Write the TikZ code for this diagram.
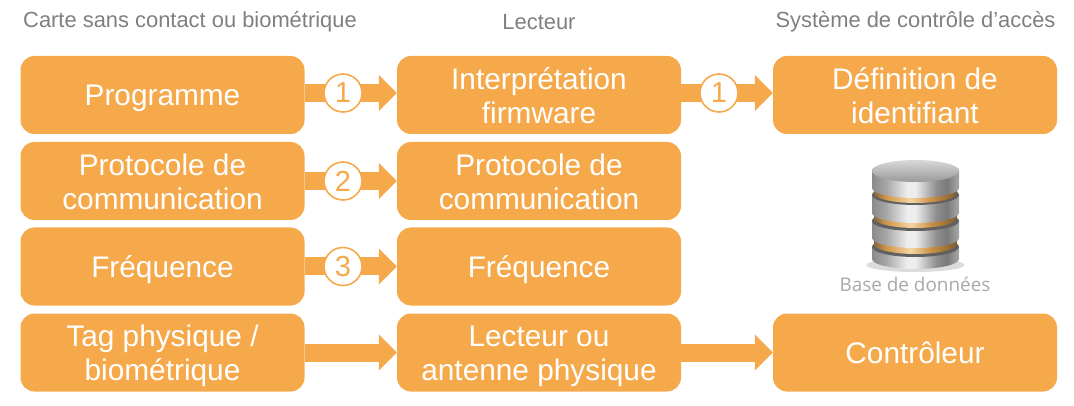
\documentclass[tikz,border=0pt]{standalone}
\usepackage{fontspec}
\setmainfont{Liberation Sans}
\newfontfamily\dbfont{Open Sans}
\usetikzlibrary{arrows.meta,shapes.geometric}
\definecolor{boxorange}{HTML}{F6A94B}
\definecolor{titlegrey}{HTML}{7F7F7F}
\definecolor{dbgrey}{HTML}{A8A8A8}
\definecolor{gA}{HTML}{8C6A3A}
\definecolor{gB}{HTML}{D49A4C}
\definecolor{gC}{HTML}{F3D5A2}
\definecolor{gD}{HTML}{C98E42}
\definecolor{gE}{HTML}{7E5E30}
\definecolor{mA}{HTML}{8A8A8A}
\definecolor{mB}{HTML}{A6A6A6}
\definecolor{mC}{HTML}{EDEDED}
\definecolor{mD}{HTML}{8E8E8E}
\definecolor{mE}{HTML}{7A7A7A}
\definecolor{mF}{HTML}{A8A8A8}
\pgfdeclarehorizontalshading{metal}{100bp}{color(0bp)=(mA);color(25bp)=(mA);color(33bp)=(mB);color(45bp)=(mC);color(50bp)=(mC);color(62bp)=(mD);color(68bp)=(mE);color(75bp)=(mF);color(100bp)=(mF)}
\pgfdeclarehorizontalshading{goldband}{100bp}{color(0bp)=(gA);color(25bp)=(gA);color(33bp)=(gB);color(47bp)=(gC);color(60bp)=(gD);color(75bp)=(gE);color(100bp)=(gE)}
\newcommand{\boxstrut}{\rule[-6.5pt]{0pt}{34pt}}
\newcommand{\twotop}{\rule{0pt}{29pt}}
\tikzset{
  box/.style={fill=boxorange,rounded corners=14pt,minimum width=284pt,minimum height=78pt,
    text=white,align=center,font=\fontsize{29.8}{34}\selectfont,inner sep=0pt,
    execute at begin node=\boxstrut,execute at end node=\boxstrut},
  link/.style={draw=boxorange,line width=18pt,-{Triangle[length=18pt,width=35pt,fill=boxorange]}},
  badge/.style={circle,draw=boxorange,line width=1.6pt,fill=white,text=boxorange,minimum size=38pt,inner sep=0pt,font=\fontsize{29}{30}\selectfont},
  title/.style={text=titlegrey,font=\fontsize{21.9}{26}\selectfont,inner sep=0pt}
}
\newcommand{\metaldisc}[2]{% top y, bottom y
  \path[shading=metal] (872,#1) -- (872,#2) arc[x radius=43.5,y radius=10,start angle=180,end angle=0] -- (959,#1) arc[x radius=43.5,y radius=10,start angle=0,end angle=-180] -- cycle;
  \fill[black!62] (915.5,#1) ellipse[x radius=43.5,y radius=10];
}
\newcommand{\goldband}[2]{%
  \path[shading=goldband] (874,#1) -- (874,#2) arc[x radius=41.5,y radius=10,start angle=180,end angle=0] -- (957,#1) arc[x radius=41.5,y radius=10,start angle=0,end angle=-180] -- cycle;
}
\begin{document}
\begin{tikzpicture}[x=1pt,y=-1pt]
\useasboundingbox (0,0) rectangle (1074,406);
% titles
\node[title,anchor=west] (t1) at (23,22) {Carte sans contact ou biométrique};
\node[title] (t2) at (539,22) {Lecteur};
\node[title] (t3) at (915.5,22) {Système de contrôle d’accès};
% boxes
\node[box] (a1) at (162.5,95) {Programme};
\node[box] (a2) at (162.5,181) {\twotop Protocole de\\communication};
\node[box] (a3) at (162.5,266.5) {Fréquence};
\node[box] (a4) at (162.5,352.5) {\twotop Tag physique /\\biométrique};
\node[box] (b1) at (539,95) {\twotop Interprétation\\firmware};
\node[box] (b2) at (539,181) {\twotop Protocole de\\communication};
\node[box] (b3) at (539,266.5) {Fréquence};
\node[box] (b4) at (539,352.5) {\twotop Lecteur ou\\antenne physique};
\node[box] (c1) at (915,95) {\twotop Définition de\\identifiant};
\node[box] (c4) at (915,352.5) {Contrôleur};
% connectors
\draw[link] ([yshift=2pt]a1.east) -- ([yshift=2pt]b1.west);
\draw[link] ([yshift=2pt]b1.east) -- ([yshift=2pt]c1.west);
\draw[link] (a2.east) -- (b2.west);
\draw[link] (a3.east) -- (b3.west);
\draw[link] (a4.east) -- (b4.west);
\draw[link] (b4.east) -- (c4.west);
% badges
\node[badge] (n1) at (343,93) {1};
\node[badge] (n2) at (343,181) {2};
\node[badge] (n3) at (343,266.5) {3};
\node[badge] (n4) at (719,93) {1};
% database
\fill[black!30,opacity=.45] (915.5,265) ellipse[x radius=49,y radius=7];
\metaldisc{247}{259}
\goldband{238}{244}
\metaldisc{221}{238}
\goldband{213}{218}
\metaldisc{195}{213}
\goldband{188}{193}
\metaldisc{171}{188}
\shade[top color=black!15,bottom color=black!40] (915.5,171) ellipse[x radius=43.5,y radius=11];
\node[text=dbgrey,font=\dbfont\fontsize{18.9}{22}\selectfont,inner sep=0pt] (db) at (915,284.5) {Base de données};
\end{tikzpicture}
\end{document}
